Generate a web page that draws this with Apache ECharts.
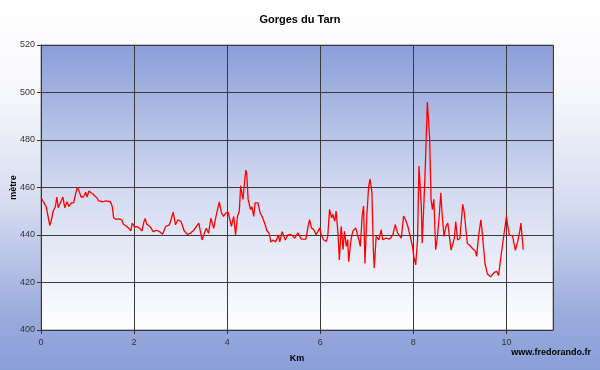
<!DOCTYPE html>
<html>
<head>
<meta charset="utf-8">
<script src="https://cdn.jsdelivr.net/npm/echarts@6/dist/echarts.min.js"></script>
<style>html,body{margin:0;padding:0;}#c{width:600px;height:370px;}</style>
</head>
<body>
<div id="c"></div>
<script>
var distanceKm = [0,0.03,0.08,0.11,0.19,0.22,0.26,0.31,0.34,0.37,0.41,0.47,0.51,0.56,0.6,0.65,0.7,0.74,0.78,0.81,0.86,0.91,0.96,0.99,1.03,1.06,1.1,1.14,1.2,1.24,1.28,1.33,1.4,1.49,1.53,1.56,1.61,1.69,1.74,1.77,1.83,1.89,1.93,1.96,2.01,2.06,2.11,2.17,2.21,2.24,2.27,2.34,2.41,2.48,2.55,2.61,2.68,2.76,2.84,2.89,2.94,3.01,3.07,3.14,3.21,3.28,3.32,3.39,3.46,3.52,3.55,3.6,3.65,3.71,3.76,3.83,3.88,3.92,3.97,4.02,4.05,4.09,4.14,4.18,4.22,4.26,4.29,4.34,4.38,4.4,4.42,4.45,4.5,4.53,4.57,4.6,4.66,4.71,4.75,4.8,4.85,4.9,4.94,4.99,5.04,5.1,5.13,5.18,5.22,5.25,5.3,5.38,5.45,5.52,5.59,5.69,5.74,5.77,5.81,5.86,5.91,5.99,6.02,6.07,6.13,6.16,6.2,6.24,6.27,6.31,6.34,6.38,6.41,6.45,6.49,6.52,6.56,6.59,6.61,6.66,6.7,6.76,6.79,6.83,6.86,6.9,6.93,6.96,7.0,7.04,7.07,7.11,7.14,7.16,7.2,7.26,7.31,7.34,7.41,7.49,7.56,7.61,7.66,7.74,7.79,7.83,7.88,7.95,7.98,8.01,8.05,8.09,8.12,8.14,8.17,8.19,8.23,8.26,8.3,8.32,8.35,8.38,8.41,8.44,8.48,8.51,8.55,8.59,8.62,8.66,8.7,8.74,8.81,8.88,8.91,8.95,9.0,9.06,9.09,9.13,9.16,9.21,9.27,9.33,9.36,9.4,9.45,9.47,9.5,9.54,9.59,9.66,9.74,9.79,9.83,9.88,9.93,9.97,10.0,10.02,10.06,10.13,10.19,10.24,10.29,10.31,10.33,10.36];
var elevationM = [455.8,455,453,452,444,446,450,452,456,451.5,451.5,456,451.5,454,452,453.5,453.5,457,460,459,456,456,458,456,458.5,459,457.5,457.6,455.7,454.4,455,454,454.4,454,452,447.3,446.6,446.8,446.2,444.5,443.8,442.7,441.7,445,443.4,443.5,443,441.7,445.5,447,444.5,443.6,441.4,442,441.4,440.3,443.6,444.3,449.6,444.3,446.4,445.7,442,440.3,440.7,442,442.8,445,437.9,441.4,442.8,440.7,447.1,442.8,447.8,453.9,449.2,447.8,449.2,449.6,447.1,443.6,447.8,440,447.8,450,460.7,455,463.5,467.3,466,455,450.7,452,447.8,453.5,453.5,449.2,447.8,445.3,442,440.7,437.1,437.9,437.1,440,437.1,441.4,440.7,437.9,440,440.1,438.7,440.9,438.3,438.3,443.7,446.5,443,442.3,440.1,443,440.1,438,437.3,439.4,450.8,447.2,448.7,445.8,450.1,440.9,429.5,443.7,433.8,441.6,435.2,438,428.8,438,441.6,443,443.7,438,435.2,448,452.2,428,448,460.7,463.5,457.9,433.8,426,439.4,438,442.3,438,438.7,438.3,440.1,444.4,440.9,438.7,448,446.5,443.7,438,435.2,431,427.4,438,469.1,469.4,452.2,436.6,455,470.6,496,496.3,480.5,455,450.7,455,433.8,438,446.5,457.8,447.9,439.4,443.6,445,433.6,438.6,445.7,437.9,438.5,452.9,450,442.1,436.4,435.7,434.3,433.3,431,439.3,446.4,442.9,436.4,427.9,423.6,422.4,424.3,424.7,422.9,430.7,437.9,443.6,447.9,445,440,439.6,433.6,437.1,442.1,445,440.7,433.9];
var chartTitle = "Gorges du Tarn";
var xAxisName = "Km";
var yAxisName = "mètre";
var sourceText = "www.fredorando.fr";

var chart = echarts.init(document.getElementById('c'));
var pts = distanceKm.map(function (d, i) { return [d, elevationM[i]]; });
var G = echarts.graphic.LinearGradient;
var font = 'Liberation Sans, Arial, sans-serif';
chart.setOption({
  animation: false,
  backgroundColor: new G(0, 0, 0, 1, [
    {offset: 0, color: '#ffffff'},
    {offset: 0.25, color: '#f7f8fc'},
    {offset: 0.55, color: '#d6dcf1'},
    {offset: 0.85, color: '#9aabdd'},
    {offset: 1, color: '#8a9ed8'}
  ]),
  title: {
    text: chartTitle, left: 'center', top: 9,
    textStyle: {fontFamily: font, fontSize: 11, fontWeight: 'bold', color: '#000'}
  },
  grid: {
    left: 41, top: 45, right: 47, bottom: 40, show: true,
    containLabel: false, outerBoundsMode: 'none',
    borderColor: '#8c8c8c', borderWidth: 1,
    backgroundColor: new G(0, 0, 0, 1, [
      {offset: 0, color: '#8a9ed8'},
      {offset: 0.5, color: '#d2d9f0'},
      {offset: 1, color: '#ffffff'}
    ])
  },
  xAxis: {
    type: 'value', min: 0, max: 11, interval: 2,
    name: xAxisName, nameLocation: 'middle', nameGap: 24, nameMoveOverlap: false,
    nameTextStyle: {fontFamily: font, fontSize: 9, fontWeight: 'bold', color: '#000'},
    axisLine: {show: true, onZero: false, lineStyle: {color: '#333', width: 1}},
    axisTick: {show: true, length: 4, lineStyle: {color: '#333'}},
    axisLabel: {fontFamily: font, fontSize: 9, color: '#333', margin: 8, showMaxLabel: false},
    splitLine: {show: true, lineStyle: {color: '#3a3a3a', width: 1}}
  },
  yAxis: {
    type: 'value', min: 400, max: 520, interval: 20,
    name: yAxisName, nameLocation: 'middle', nameGap: 23, nameRotate: 90, nameMoveOverlap: false,
    nameTextStyle: {fontFamily: font, fontSize: 9, fontWeight: 'bold', color: '#000'},
    axisLine: {show: true, lineStyle: {color: '#333', width: 1}},
    axisTick: {show: true, length: 4, lineStyle: {color: '#333'}},
    axisLabel: {fontFamily: font, fontSize: 9, color: '#333', margin: 6},
    splitLine: {show: true, lineStyle: {color: '#3a3a3a', width: 1}}
  },
  graphic: [{
    type: 'text', right: 9, top: 348,
    style: {text: sourceText, font: 'bold 9px ' + font, fill: '#000'}
  }],
  series: [{
    type: 'line', data: pts, showSymbol: false, smooth: false,
    lineStyle: {color: '#ff0000', width: 1.3},
    itemStyle: {color: '#ff0000'}
  }]
});
</script>
</body>
</html>
